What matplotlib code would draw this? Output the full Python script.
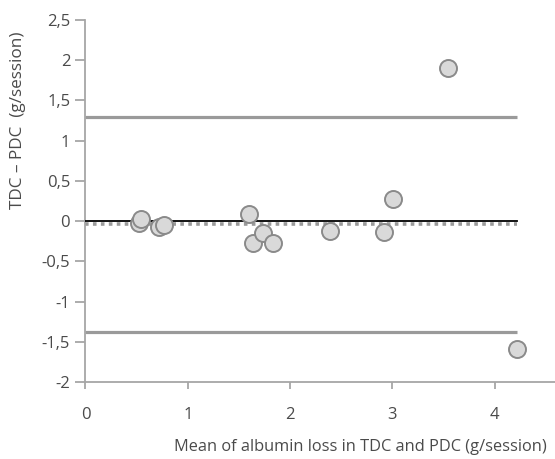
import numpy as np
import matplotlib.pyplot as plt

# Bland-Altman: mean of the two methods vs their difference
mean_loss = [0.52, 0.54, 0.72, 0.77, 1.60, 1.64, 1.74, 1.83, 2.39, 2.92, 3.01, 3.54, 4.22]
difference = [-0.02, 0.02, -0.07, -0.05, 0.09, -0.27, -0.15, -0.27, -0.12, -0.13, 0.28, 1.90, -1.59]

bias = -0.03
upper_loa = 1.30
lower_loa = -1.377

y_ticks = [-2, -1.5, -1, -0.5, 0, 0.5, 1, 1.5, 2, 2.5]
x_ticks = [0, 1, 2, 3, 4]

plt.rcParams['font.family'] = ['Open Sans', 'DejaVu Sans']

fig = plt.figure(figsize=(5.55, 4.59), dpi=100)
ax = fig.add_axes([0.154, 0.1678, 0.846, 0.7886])

axis_grey = '#a6a6a6'
line_grey = '#9a9a9a'
text_col = '#4a4a4a'

x_end = max(mean_loss)
ax.plot([0, x_end], [upper_loa, upper_loa], color=line_grey, lw=2.3, solid_capstyle='butt', zorder=2)
ax.plot([0, x_end], [lower_loa, lower_loa], color=line_grey, lw=2.3, solid_capstyle='butt', zorder=2)
ax.plot([0, x_end], [bias, bias], color=line_grey, lw=2.6, linestyle=(0, (1.0, 1.2)),
        dash_capstyle='butt', zorder=2)
ax.plot([0, x_end], [0, 0], color='black', lw=1.3, zorder=3)

ax.scatter(mean_loss, difference, s=150, facecolor='#d9d9d9', edgecolor='#8a8a8a',
           linewidth=1.4, zorder=4)

ax.set_xlim(0, 4.59)
ax.set_ylim(-2, 2.5)
ax.set_xticks(x_ticks)
ax.set_yticks(y_ticks)
ax.set_xticklabels([str(t) for t in x_ticks])
ax.set_yticklabels([('%g' % t).replace('.', ',') for t in y_ticks])

for side in ['top', 'right']:
    ax.spines[side].set_visible(False)
for side in ['left', 'bottom']:
    ax.spines[side].set_color(axis_grey)
    ax.spines[side].set_linewidth(1.3)

ax.tick_params(axis='y', direction='out', length=7, width=1.3, color=axis_grey,
               labelsize=12, labelcolor=text_col, pad=4)
ax.tick_params(axis='x', direction='out', length=5, width=1.3, color=axis_grey,
               labelsize=12, labelcolor=text_col, pad=13)

fig.text(174 / 555, 1 - 447 / 459, 'Mean of albumin loss in TDC and PDC (g/session)',
         ha='left', va='center', fontsize=11.8, color=text_col)
fig.text(18.5 / 555, 1 - 120 / 459, 'TDC \u2013 PDC  (g/session)', rotation=90,
         ha='center', va='center', fontsize=12.3, color=text_col)

fig.savefig('out.png', dpi=100)
